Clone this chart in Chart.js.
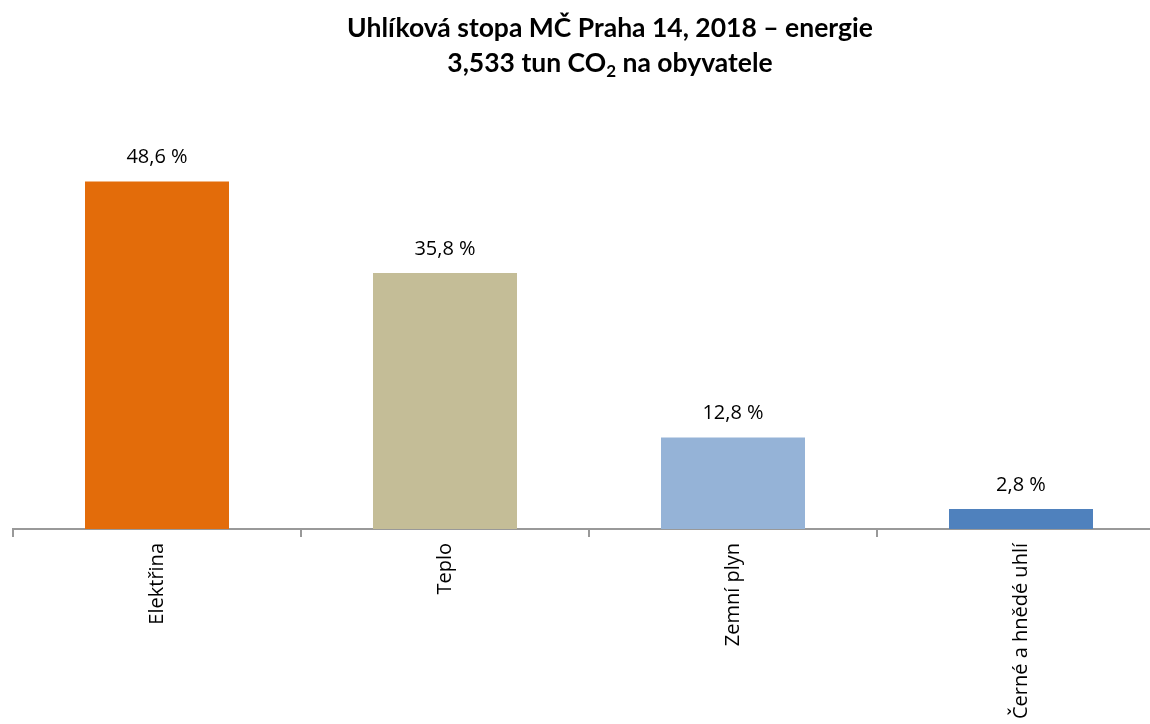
<!DOCTYPE html>
<html>
<head>
<meta charset="utf-8">
<script src="https://cdn.jsdelivr.net/npm/chart.js@4"></script>
<style>
  html, body { margin: 0; padding: 0; background: #fff; overflow: hidden; width: 1150px; height: 724px; }
  #title {
    position: absolute; top: 10px; left: 0; width: 1220px; text-align: center;
    font-family: Lato, "Open Sans", sans-serif; font-weight: 700; font-size: 26.5px;
    line-height: 35px; color: #000; z-index: 2;
  }
  #title sub { font-size: 17px; line-height: 0; vertical-align: -5px; }
  #chart { position: absolute; top: 0; left: 0; }
</style>
</head>
<body>
<div id="title">Uhlíková stopa MČ Praha 14, 2018 – energie<br>3,533 tun CO<sub>2</sub> na obyvatele</div>
<canvas id="chart" width="1165" height="724"></canvas>
<script>
// data
const categories = ["Elektřina", "Teplo", "Zemní plyn", "Černé a hnědé uhlí"];
const shares = [48.6, 35.8, 12.8, 2.8];
const barColors = ["#E36C0A", "#C4BD97", "#95B3D7", "#4F81BD"];

const fontFamily = "'Open Sans', 'DejaVu Sans', sans-serif";

// labels above the bars, "48,6 %"
const valueLabels = {
  id: "valueLabels",
  afterDatasetsDraw(chart) {
    const ctx = chart.ctx;
    const meta = chart.getDatasetMeta(0);
    ctx.save();
    ctx.font = "20px " + fontFamily;
    ctx.fillStyle = "#000";
    ctx.textAlign = "center";
    ctx.textBaseline = "middle";
    meta.data.forEach((bar, i) => {
      const txt = shares[i].toFixed(1).replace(".", ",") + " %";
      ctx.fillText(txt, bar.x, bar.y - 24);
    });
    ctx.restore();
  }
};

const ctx = document.getElementById("chart").getContext("2d");
new Chart(ctx, {
  type: "bar",
  data: {
    labels: categories,
    datasets: [{
      data: shares,
      backgroundColor: barColors,
      borderWidth: 0,
      categoryPercentage: 1,
      barPercentage: 0.5
    }]
  },
  options: {
    responsive: false,
    animation: false,
    layout: { padding: { left: 13, right: 0, top: 0, bottom: 0 } },
    plugins: {
      legend: { display: false },
      tooltip: { enabled: false }
    },
    scales: {
      y: {
        display: false,
        min: 0,
        max: 74
      },
      x: {
        afterFit: (scale) => { scale.height = 195; },
        border: { display: true, color: "#999", width: 2 },
        grid: {
          offset: true,
          drawOnChartArea: false,
          drawTicks: true,
          tickLength: 8,
          color: "#999",
          lineWidth: 2
        },
        ticks: {
          minRotation: 90,
          maxRotation: 90,
          padding: 6,
          color: "#000",
          font: { family: fontFamily, size: 20 }
        }
      }
    }
  },
  plugins: [valueLabels]
});
</script>
</body>
</html>
